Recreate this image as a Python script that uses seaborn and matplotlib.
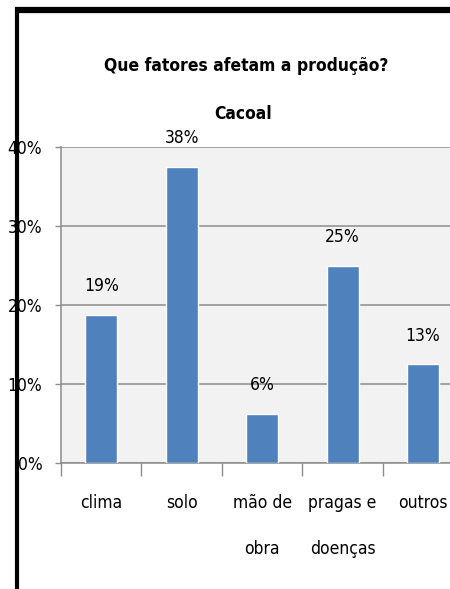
import matplotlib
matplotlib.use('Agg')
import matplotlib.pyplot as plt
import seaborn as sns
import pandas as pd
from matplotlib.lines import Line2D
from matplotlib.ticker import FixedLocator, PercentFormatter

# dados do gráfico
fatores = ['clima', 'solo', 'mão de\nobra', 'pragas e\ndoenças', 'outros']
proporcao = [0.1875, 0.375, 0.0625, 0.25, 0.125]
rotulos = ['19%', '38%', '6%', '25%', '13%']

sns.set_style('white')
plt.rcParams['font.family'] = ['DejaVu Sans']
plt.rcParams['font.stretch'] = 'condensed'
plt.rcParams['text.color'] = 'black'
plt.rcParams['xtick.color'] = 'black'
plt.rcParams['ytick.color'] = 'black'

df = pd.DataFrame({'fator': fatores, 'proporcao': proporcao})

fig = plt.figure(figsize=(4.5, 5.89), dpi=100)
ax = fig.add_axes([0.1356, 0.2139, 0.894, 0.5365])
ax.set_facecolor('#f2f2f2')

sns.barplot(data=df, x='fator', y='proporcao', color='#4f81bd', width=0.4,
            saturation=1, ax=ax, zorder=3)
ax.bar_label(ax.containers[0], labels=rotulos, padding=14, fontsize=12.5, color='black')

ax.set_ylim(0, 0.4)
ax.set_xlim(-0.5, 4.5)
ax.set_yticks([0, 0.1, 0.2, 0.3, 0.4])
ax.yaxis.set_major_formatter(PercentFormatter(1.0, decimals=0))
ax.grid(axis='y', color='#8c8c8c', linewidth=1.1, zorder=0)
ax.set_xlabel('')
ax.set_ylabel('')

# marcas do eixo x entre as categorias
ax.xaxis.set_minor_locator(FixedLocator([-0.5, 0.5, 1.5, 2.5, 3.5, 4.5]))
ax.tick_params(axis='x', which='both', bottom=True)
ax.tick_params(axis='x', which='major', length=0, pad=22, labelsize=12.5)
ax.tick_params(axis='x', which='minor', length=9, color='#8c8c8c', width=1)
ax.tick_params(axis='y', left=True, length=4.5, color='#8c8c8c', width=1,
               labelsize=12.5, pad=9, labelcolor='black')
for lbl in ax.get_xticklabels():
    lbl.set_linespacing(3.0)
    lbl.set_va('top')

for s in ['top', 'right']:
    ax.spines[s].set_visible(False)
for s in ['left', 'bottom']:
    ax.spines[s].set_color('#8c8c8c')
    ax.spines[s].set_linewidth(1.1)

fig.text(0.548, 0.888, 'Que fatores afetam a produção?', ha='center', va='center',
         fontsize=12.5, fontweight='bold')
fig.text(0.54, 0.806, 'Cacoal', ha='center', va='center', fontsize=12.5, fontweight='bold')

# moldura preta (topo e esquerda)
fig.add_artist(Line2D([15 / 450, 1], [1 - 10 / 589, 1 - 10 / 589], color='black',
                      linewidth=4.5, solid_capstyle='butt', transform=fig.transFigure))
fig.add_artist(Line2D([16.5 / 450, 16.5 / 450], [0, 1 - 7 / 589], color='black',
                      linewidth=3, solid_capstyle='butt', transform=fig.transFigure))

fig.savefig('out.png', dpi=100)
